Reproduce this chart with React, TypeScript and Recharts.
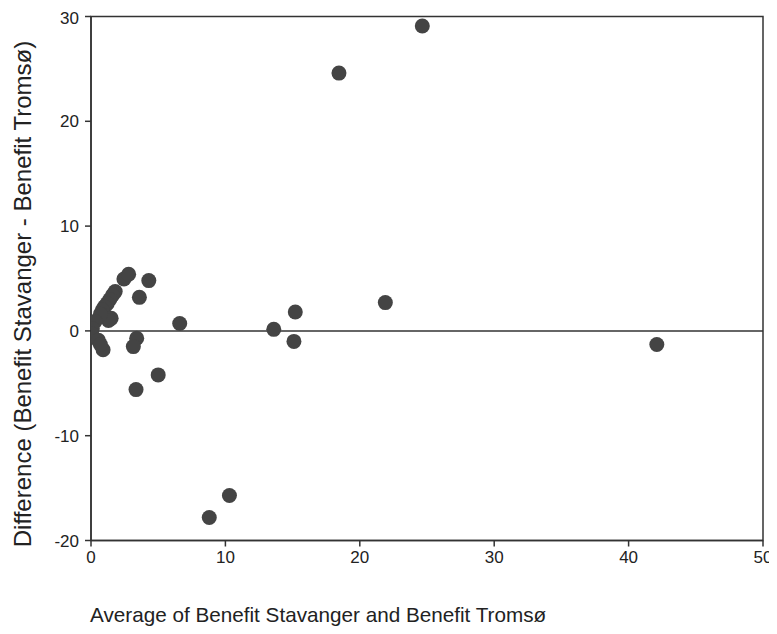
import React from "react";
import {
  ScatterChart,
  Scatter,
  XAxis,
  YAxis,
  ReferenceLine,
  ReferenceArea,
  Label,
} from "recharts";

const averageValues = [
  24.65, 18.45, 21.9, 15.2, 15.1, 13.6, 42.1, 10.3, 8.8, 6.6, 5.0, 3.35, 4.3,
  3.6, 2.45, 2.8, 1.8, 1.6, 1.4, 1.2, 1.0, 0.85, 1.5, 1.3, 0.7, 0.3, 0.1, 0.05,
  0.55, 0.9, 0.7, 3.4, 3.15,
];
const differenceValues = [
  29.1, 24.6, 2.7, 1.8, -1.0, 0.15, -1.3, -15.7, -17.8, 0.7, -4.2, -5.6, 4.8,
  3.2, 4.95, 5.4, 3.75, 3.4, 3.0, 2.6, 2.3, 2.0, 1.2, 1.0, 1.6, 0.9, 0.2, -0.3,
  -0.9, -1.8, -1.3, -0.7, -1.5,
];
const xTicks = [0, 10, 20, 30, 40, 50];
const yTicks = [-20, -10, 0, 10, 20, 30];
const xTitle = "Average of Benefit Stavanger and Benefit Tromsø";
const yTitle = "Difference (Benefit Stavanger - Benefit Tromsø)";

const data = averageValues.map((x, i) => ({ x, y: differenceValues[i] }));

const FONT = "'Liberation Sans', Arial, Helvetica, sans-serif";
const AXIS = "#333";

const Dot = (p: any) => <circle cx={p.cx} cy={p.cy} r={7.5} fill="#444" />;

export default function App() {
  return (
    <div style={{ width: 769, height: 626 }}>
      <ScatterChart
        width={769}
        height={626}
        margin={{ top: 8.5, right: 14, bottom: 53.5, left: 0 }}
        style={{ fontFamily: FONT }}
      >
        <XAxis
          type="number"
          dataKey="x"
          domain={[0, 50]}
          ticks={xTicks}
          height={40}
          tickSize={6}
          tickMargin={4}
          stroke={AXIS}
          strokeWidth={1.5}
          tick={{ fill: "#222", fontSize: 17, fontFamily: FONT }}
          allowDataOverflow
        >
          <Label
            content={() => (
              <text
                x={82}
                y={614}
                fill="#222"
                fontSize={20.7}
                fontFamily={FONT}
                textAnchor="start"
              >
                {xTitle}
              </text>
            )}
          />
        </XAxis>
        <YAxis
          type="number"
          dataKey="y"
          domain={[-20, 30]}
          ticks={yTicks}
          width={83}
          tickSize={6}
          tickMargin={6}
          stroke={AXIS}
          strokeWidth={1.5}
          tick={{ fill: "#222", fontSize: 17, fontFamily: FONT }}
          allowDataOverflow
        >
          <Label
            content={() => (
              <text
                x={23}
                y={286}
                fill="#222"
                fontSize={24}
                fontFamily={FONT}
                textAnchor="middle"
                transform="rotate(-90 23 286)"
              >
                {yTitle}
              </text>
            )}
          />
        </YAxis>
        <ReferenceArea
          x1={0}
          x2={50}
          y1={-20}
          y2={30}
          fill="none"
          stroke={AXIS}
          strokeWidth={1.5}
          fillOpacity={0}
        />
        <ReferenceLine y={0} stroke={AXIS} strokeWidth={1.5} />
        <Scatter data={data} shape={Dot} isAnimationActive={false} />
      </ScatterChart>
    </div>
  );
}
